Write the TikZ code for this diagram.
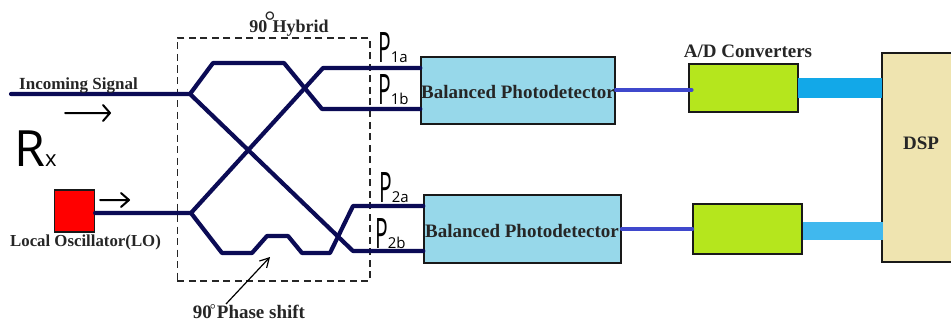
\documentclass[tikz,border=0pt]{standalone}
\usepackage{fontspec}
\setmainfont{Liberation Serif}
\newfontfamily\handfont{Open Sans}
\usetikzlibrary{arrows.meta}
\definecolor{navy}{HTML}{0B0B55}
\definecolor{bpdfill}{HTML}{97D8EA}
\definecolor{adcfill}{HTML}{B5E61D}
\definecolor{dspfill}{HTML}{EFE4B0}
\definecolor{wireblue}{HTML}{3F48CC}
\definecolor{busa}{HTML}{12A8E8}
\definecolor{busb}{HTML}{40B8EE}
\tikzset{
  box/.style={draw=black!90,line width=1.3pt,inner sep=0pt},
  lab/.style={font=\bfseries\fontsize{18}{20}\selectfont,text=black!85,inner sep=0pt},
  guide/.style={draw=navy,line width=4.2pt,line join=round,line cap=round},
  wire/.style={draw=wireblue,line width=3.8pt,line cap=round},
  hand/.style={font=\handfont,inner sep=0pt,text=black,anchor=base west},
  pen/.style={draw=black,line width=2pt,line cap=round,line join=round}
}
\newcommand{\dgbig}{\hspace{-3pt}\raisebox{2pt}{\mdseries\fontsize{28}{28}\selectfont °}\hspace{-3pt}}
\newcommand{\dgsmall}{\hspace{-2pt}\raisebox{4pt}{\mdseries\fontsize{15}{15}\selectfont °}\hspace{1pt}}
\newcommand{\handP}[1]{\scalebox{.5}[1]{\fontsize{42}{44}\selectfont P}{\fontsize{15}{16}\selectfont #1}}
\begin{document}
\begin{tikzpicture}[x=1pt,y=-1pt]
\useasboundingbox (0,0) rectangle (951,321);
% anchor points
\coordinate (inA) at (11,94);
\coordinate (sA) at (190,94);
\coordinate (a1) at (213,63);
\coordinate (a2) at (284,63);
\coordinate (a3) at (322,109);
\coordinate (a4) at (353,251);
\coordinate (sB) at (191,213);
\coordinate (b1) at (323,68);
\coordinate (c1) at (222,253);
\coordinate (c2) at (252,253);
\coordinate (c3) at (267,236);
\coordinate (c4) at (288,236);
\coordinate (c5) at (302,253);
\coordinate (c6) at (330,253);
\coordinate (c7) at (353,206);
% boxes
\node[box,fill=bpdfill,minimum width=194pt,minimum height=67pt] (bpdA) at (518,90.5) {};
\node[box,fill=bpdfill,minimum width=197pt,minimum height=68pt] (bpdB) at (522.5,229) {};
\node[box,fill=adcfill,minimum width=109pt,minimum height=48pt] (adcA) at (743.5,88) {};
\node[box,fill=adcfill,minimum width=109pt,minimum height=50pt] (adcB) at (747.5,229) {};
\node[box,fill=red,minimum width=40pt,minimum height=42pt] (lo) at (74.5,211) {};
% DSP
\path[fill=dspfill] (882,53) rectangle (951,262);
\draw[black!90,line width=1.3pt] (951,53) -- (882,53) -- (882,262) -- (951,262);
\coordinate (dspA) at (882,88.5);
\coordinate (dspB) at (883,231);
% buses
\draw[busa,line width=20pt] (adcA.east |- dspA) ++(-1,0) -- (dspA);
\draw[busb,line width=18pt] (adcB.east |- dspB) -- (dspB);
% blue wires
\draw[wire] (bpdA.east |- adcA.west) ++(0,2) -- ++(76,0);
\draw[wire] (bpdB.east) -- (adcB.west);
% hybrid box
\node[draw=black!85,dashed,dash pattern=on 7pt off 4.5pt,line width=1.2pt,minimum width=192.5pt,minimum height=243pt,inner sep=0pt] (hyb) at (273.7,159.5) {};
% guides
\draw[guide] (inA) -- (sA) -- (a1) -- (a2) -- (a3) -- (a3 -| bpdA.west);
\draw[guide] (sA) -- (a4) -- (a4 -| bpdB.west);
\draw[guide] (lo.east |- sB) -- (sB) -- (b1) -- (b1 -| bpdA.west);
\draw[guide] (sB) -- (c1) -- (c2) -- (c3) -- (c4) -- (c5) -- (c6) -- (c7) -- (c7 -| bpdB.west);
% labels
\node[lab] (tHyb) at (289,24) {90\dgbig Hybrid};
\node[lab,font=\bfseries\fontsize{17}{19}\selectfont] (tIn) at (78.5,85) {Incoming Signal};
\node[lab,font=\bfseries\fontsize{16.8}{19}\selectfont] (tLo) at (85.5,242.5) {Local Oscillator(LO)};
\node[lab,font=\bfseries\fontsize{19}{21}\selectfont] (tShift) at (249,312) {90\dgsmall Phase shift};
\node[lab,font=\bfseries\fontsize{19}{21}\selectfont] at (518,92) {Balanced Photodetector};
\node[lab,font=\bfseries\fontsize{19}{21}\selectfont] at (522,231) {Balanced Photodetector};
\node[lab,font=\bfseries\fontsize{19}{21}\selectfont] (tAd) at (748,51) {A/D Converters};
\node[lab,font=\bfseries\fontsize{19}{21}\selectfont] (tDsp) at (921,143) {DSP};
% handwritten labels
\node[hand] (rx) at (14,166) {\fontsize{50}{52}\selectfont R\fontsize{22}{24}\selectfont x};
\node[hand] (p1) at (378,63) {\handP{1a}};
\node[hand] (p2) at (378,104) {\handP{1b}};
\node[hand] (p3) at (379,202) {\handP{2a}};
\node[hand] (p4) at (375,248) {\handP{2b}};
% arrows
\coordinate (f1) at (65,113); \coordinate (f2) at (110,113);
\coordinate (g1) at (100,200); \coordinate (g2) at (129,200);
\draw[pen] (f1) -- (f2) (103,105) -- (110,113) -- (103,121);
\draw[pen] (g1) -- (g2) (121,193) -- (129,200) -- (121,207);
\coordinate (h1) at (226,304);
\coordinate (h2) at (270,257);
\draw[black,line width=1.2pt,-{Straight Barb[length=9pt,width=10pt]}] (h1) -- (h2);
\end{tikzpicture}
\end{document}
